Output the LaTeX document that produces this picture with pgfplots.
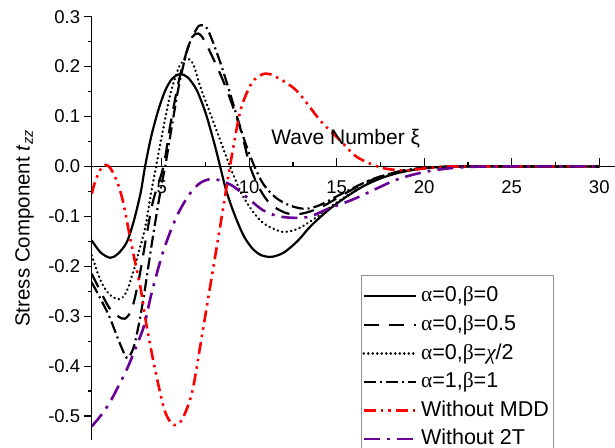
\documentclass[border=0pt]{standalone}
\usepackage{fontspec}
\setmainfont{Liberation Sans}
\newfontfamily\symfont{Liberation Serif}
\usepackage{pgfplots}
\pgfplotsset{compat=1.18}
\definecolor{MDDRed}{RGB}{255,0,0}
\definecolor{TTPurple}{RGB}{105,0,150}

\begin{document}
\begin{tikzpicture}
\useasboundingbox (0,0) rectangle (615bp,448bp);
\clip (0,0) rectangle (615bp,448bp);
\begin{axis}[
  at={(91.7bp,8bp)}, anchor=south west,
  scale only axis, width=523.3bp, height=423.3bp,
  xmin=1, xmax=30.9, ymin=-0.548, ymax=0.3,
  axis x line*=middle, axis y line*=left,
  axis line style={line width=1.2bp, black},
  hide obscured x ticks=false, hide obscured y ticks=false,
  xtick={5,10,15,20,25,30},
  xticklabels={5,10,15,20,25,30},
  minor x tick num=1,
  ytick={-0.5,-0.4,-0.3,-0.2,-0.1,0,0.1,0.2,0.3},
  yticklabels={-0.5,-0.4,-0.3,-0.2,-0.1,0.0,0.1,0.2,0.3},
  minor y tick num=1,
  xtick align=inside, ytick align=outside,
  major tick length=8bp, minor tick length=4bp,
  tick style={line width=1.2bp, black},
  tick label style={font=\fontsize{18.5bp}{21bp}\selectfont},
  xticklabel style={yshift=-11bp},
  ylabel={Stress Component \textit{t}\textsubscript{\textit{zz}}},
  ylabel style={at={(axis description cs:-0.128,0.50)}, anchor=center,
    font=\fontsize{20.5bp}{24bp}\selectfont},
  xlabel={Wave Number ξ},
  xlabel style={at={(axis description cs:0.4854,0.697)}, anchor=base,
    font=\fontsize{21bp}{24bp}\selectfont},
  legend cell align=left,
  legend image code/.code={\draw[#1] (0bp,0bp) -- (52bp,0bp);},
  legend style={at={(axis description cs:0.5146,0.3898)}, anchor=north west,
    draw=gray!85, line width=0.9bp, fill=white,
    font=\fontsize{21.5bp}{24bp}\selectfont,
    inner xsep=1bp, inner ysep=10bp, row sep=7.2bp,
    nodes={inner xsep=4bp, inner ysep=1bp, text height=15.4bp, text depth=4bp}},
  every axis plot/.append style={smooth, line width=2.2bp},
]
% alpha=0, beta=0
\addplot[black, solid] coordinates {
(1,-0.148)(1.5,-0.172)(2.06,-0.183)(2.5,-0.175)(3,-0.152)(3.4,-0.11)(3.8,-0.052)(4.05,0)
(4.4,0.06)(4.8,0.112)(5.2,0.152)(5.6,0.176)(6.05,0.185)(6.5,0.178)(7.0,0.153)(7.5,0.108)
(8.0,0.047)(8.34,0)(8.7,-0.05)(9.2,-0.1)(9.7,-0.14)(10.2,-0.165)(10.7,-0.178)(11.3,-0.181)
(12.0,-0.172)(12.8,-0.148)(13.5,-0.12)(14.5,-0.088)(15.5,-0.062)(16.5,-0.04)(17.5,-0.024)
(18.5,-0.013)(19.5,-0.006)(20.5,-0.002)(22,0)(26,0)(30,0)};
\addlegendentry{{\symfont α}=0,{\symfont β}=0}
% alpha=0, beta=0.5
\addplot[black, dash pattern=on 15bp off 10bp] coordinates {
(1,-0.215)(1.5,-0.25)(2,-0.283)(2.5,-0.3)(2.9,-0.305)(3.3,-0.285)(3.7,-0.225)(4.1,-0.145)
(4.5,-0.07)(5.1,0)(5.5,0.085)(6,0.175)(6.5,0.238)(6.9,0.265)(7.3,0.26)(8,0.212)(8.7,0.155)
(9.5,0.075)(10.05,0)(10.6,-0.045)(11.2,-0.075)(12,-0.092)(12.7,-0.096)(13.5,-0.09)
(14.3,-0.078)(15,-0.064)(16,-0.044)(17,-0.027)(18,-0.015)(19,-0.007)(20,-0.003)(22,0)(26,0)(30,0)};
\addlegendentry{{\symfont α}=0,{\symfont β}=0.5}
% alpha=0, beta=chi/2
\addplot[black, line width=2.6bp, line cap=round, dash pattern=on 0.1bp off 4.4bp] coordinates {
(1,-0.178)(1.5,-0.228)(2,-0.256)(2.6,-0.266)(3,-0.25)(3.4,-0.208)(3.7,-0.17)(4.06,-0.122)
(4.4,-0.052)(4.68,0)(5,0.06)(5.5,0.146)(6,0.2)(6.45,0.216)(6.8,0.205)(7.2,0.16)(7.7,0.113)
(8.2,0.066)(8.9,0)(9.5,-0.05)(10,-0.08)(10.5,-0.103)(11,-0.118)(11.9,-0.131)(12.7,-0.126)
(13.5,-0.11)(14.3,-0.09)(15,-0.072)(16,-0.05)(17,-0.03)(18,-0.017)(19,-0.009)(20,-0.004)(22,0)(26,0)(30,0)};
\addlegendentry{{\symfont α}=0,{\symfont β}={\symfont\itshape χ}/2}
% alpha=1, beta=1
\addplot[black, dash pattern=on 12bp off 4bp on 2bp off 4bp] coordinates {
(1,-0.232)(1.5,-0.265)(2,-0.3)(2.5,-0.345)(2.9,-0.378)(3.1,-0.383)(3.4,-0.362)(3.7,-0.315)
(4,-0.255)(4.5,-0.14)(5,-0.035)(5.2,0)(5.6,0.085)(6,0.165)(6.5,0.238)(7,0.276)(7.25,0.283)
(7.6,0.276)(8.15,0.228)(8.7,0.17)(9.3,0.1)(9.8,0.045)(10.3,0)(10.8,-0.035)(11.5,-0.062)
(12.3,-0.078)(13.2,-0.085)(14,-0.078)(15,-0.06)(16,-0.042)(17,-0.026)(18,-0.015)(19,-0.007)
(20,-0.003)(22,0)(26,0)(30,0)};
\addlegendentry{{\symfont α}=1,{\symfont β}=1}
% without MDD
\addplot[MDDRed, line width=2.6bp, dash pattern=on 12bp off 5bp on 2.5bp off 5bp on 2.5bp off 5bp] coordinates {
(1,-0.055)(1.2,-0.03)(1.5,-0.006)(1.8,0.003)(2.1,-0.005)(2.5,-0.035)(2.82,-0.075)(3.15,-0.135)
(3.5,-0.195)(3.8,-0.245)(4.15,-0.322)(4.63,-0.408)(5.1,-0.481)(5.4,-0.507)(5.7,-0.518)
(6.15,-0.508)(6.72,-0.455)(7.2,-0.36)(7.67,-0.261)(8.34,-0.12)(8.9,0)(9.45,0.105)(9.87,0.148)
(10.3,0.174)(10.9,0.186)(11.5,0.18)(12.7,0.152)(14.06,0.092)(15.2,0.052)(16.15,0.019)
(17.5,-0.002)(18.8,-0.008)(20,-0.004)(21,-0.001)(22,0)(26,0)(30,0)};
\addlegendentry{Without MDD}
% without 2T
\addplot[TTPurple, line width=2.6bp, dash pattern=on 16bp off 7bp on 3bp off 7bp] coordinates {
(1,-0.521)(1.5,-0.5)(2,-0.475)(2.5,-0.442)(3,-0.407)(3.5,-0.365)(4,-0.318)(4.4,-0.257)
(5,-0.18)(5.5,-0.13)(6,-0.09)(6.6,-0.055)(7.2,-0.033)(7.85,-0.025)(8.5,-0.03)(9.1,-0.04)
(9.8,-0.06)(10.8,-0.088)(11.7,-0.1)(12.7,-0.103)(13.5,-0.1)(14.5,-0.085)(15.5,-0.072)
(16.2,-0.062)(17.3,-0.044)(18.3,-0.028)(19.3,-0.017)(20.5,-0.008)(22,-0.002)(24,0)(30,0)};
\addlegendentry{Without 2T}
\end{axis}
\end{tikzpicture}
\end{document}
